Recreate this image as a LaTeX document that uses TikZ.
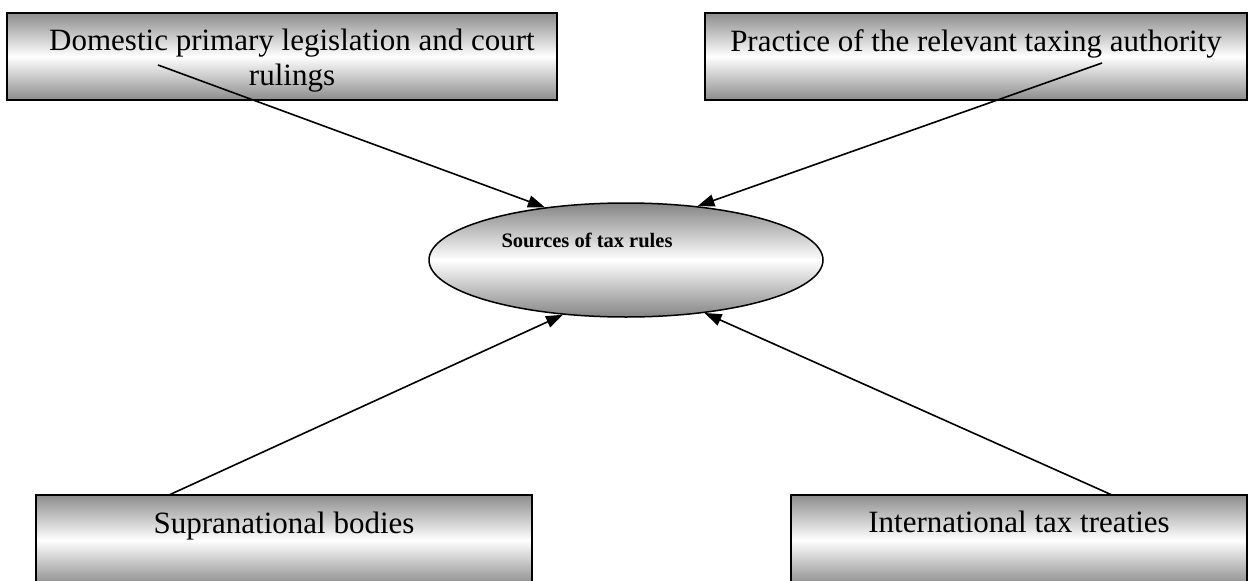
\documentclass[tikz,border=0pt]{standalone}
\usepackage{fontspec}
\setmainfont{Liberation Serif}
\usetikzlibrary{arrows.meta, shapes.geometric}

\begin{document}
\begin{tikzpicture}[
	x=1pt, y=-1pt,
	source/.style={rectangle, draw=black, line width=1.8pt, top color=black!45, bottom color=black!45, middle color=white, inner sep=0pt},
	hub/.style={ellipse, draw=black, line width=1.5pt, top color=black!48, bottom color=black!48, middle color=white, minimum width=394pt, minimum height=114pt, inner sep=0pt},
	boxtext/.style={font=\fontsize{31}{35}\selectfont, align=center, inner sep=0pt},
	hubtext/.style={font=\fontsize{20.5}{24}\selectfont\bfseries, inner sep=0pt},
	feed/.style={line width=1.6pt, -{Triangle[length=17pt, width=12pt]}},
]
	\useasboundingbox (0, 0) rectangle (1248, 581);
	\clip (0, 0) rectangle (1248, 581);

	% The four sources: shaded boxes, the lower two run off the page
	\node[source, minimum width=550pt, minimum height=87pt] (domestic) at (282, 56.5) {};
	\node[source, minimum width=542pt, minimum height=87pt] (practice) at (976, 56.5) {};
	\node[source, minimum width=496pt, minimum height=90pt] (supra) at (284, 540) {};
	\node[source, minimum width=456pt, minimum height=90pt] (treaties) at (1019, 540) {};

	% Texts sit in the upper part of each box
	\node[boxtext] (domestic-text) at (292, 61) {Domestic primary legislation and court\\rulings};
	\node[boxtext, anchor=base] (practice-text) at (976, 51) {Practice of the relevant taxing authority};
	\node[boxtext, anchor=base] (supra-text) at (284, 533) {Supranational bodies};
	\node[boxtext, anchor=base] (treaties-text) at (1019, 532) {International tax treaties};

	% Centre ellipse
	\node[hub] (rules) at (626, 260) {};
	\node[hubtext, anchor=base] (rules-text) at (587, 247) {Sources of tax rules};

	% Where the arrows leave the boxes
	\coordinate (domestic-out) at (158, 65);
	\coordinate (practice-out) at (1102, 63);
	\coordinate (supra-out) at (169, 495);
	\coordinate (treaties-out) at (1112, 495);

	% Arrows into the ellipse
	\foreach \src/\angle in {domestic/147, practice/37, supra/-139, treaties/-34} {
		\draw[feed] (\src-out) -- (rules.\angle);
	}
\end{tikzpicture}
\end{document}
